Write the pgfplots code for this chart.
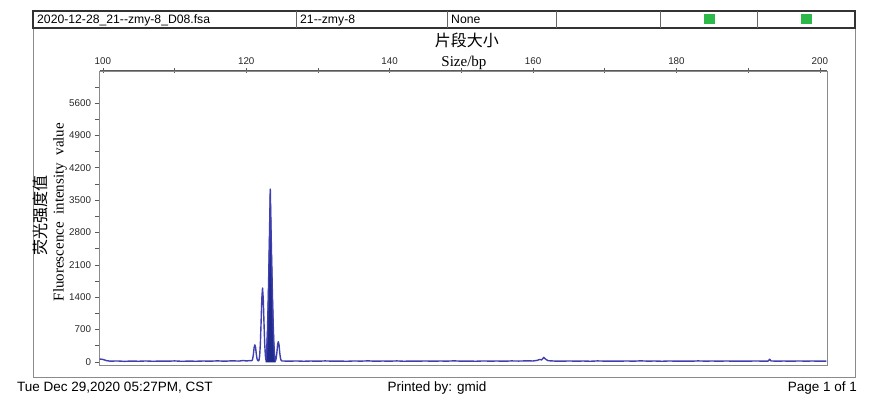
\documentclass[border=0pt]{standalone}
\usepackage{fontspec}
\setmainfont{Liberation Serif}
\newfontfamily\arial{Liberation Sans}
\newfontfamily\cjk{Noto Sans CJK SC}
\usepackage{pgfplots}
\pgfplotsset{compat=1.18}
\definecolor{trace}{HTML}{3F3FB0}
\definecolor{peakfill}{HTML}{1F2A8C}
\definecolor{okgreen}{HTML}{2DB84A}
\definecolor{framegray}{HTML}{8A8A8A}

\begin{document}
\begin{tikzpicture}
\path[use as bounding box] (0,0) rectangle (871pt,411pt);
% page frame and header strip
\draw[framegray, line width=0.9pt] (33pt,34pt) rectangle (855pt,383pt);
\draw[black!80, line width=1.4pt] (33pt,383pt) rectangle (855pt,400pt);
\foreach \xx in {296,447,556,660,757}
  \draw[black!60, line width=0.8pt] (\xx pt,383pt) -- (\xx pt,400pt);
\fill[okgreen] (703.5pt,386.5pt) rectangle (714.5pt,397pt);
\fill[okgreen] (800.5pt,386.5pt) rectangle (811.5pt,397pt);
\begin{scope}[every node/.style={inner sep=0pt, font=\arial\fontsize{12.2}{13}\selectfont}]
\node[anchor=base west] at (37pt,387.5pt) {2020-12-28\_21-{}-zmy-8\_D08.fsa};
\node[anchor=base west] at (300pt,387.5pt) {21-{}-zmy-8};
\node[anchor=base west] at (451pt,387.5pt) {None};
\end{scope}
% footer
\begin{scope}[every node/.style={inner sep=0pt, font=\arial\fontsize{13.5}{14}\selectfont}]
\node[anchor=base west] at (17pt,19pt) {Tue Dec 29,2020 05:27PM, CST};
\node[anchor=base] at (437pt,19pt) {Printed by: gmid};
\node[anchor=base east] at (857pt,19pt) {Page 1 of 1};
\end{scope}

\begin{axis}[
  at={(99.5pt,46pt)}, anchor=south west,
  scale only axis, width=727.5pt, height=294pt,
  xmin=99.53, xmax=201, ymin=-65, ymax=6292,
  axis line style={draw=framegray, line width=0.9pt},
  xtick pos=right, xticklabel pos=right, ytick pos=left,
  xtick={100,120,...,200}, minor xtick={110,130,...,190},
  ytick={0,700,...,5600}, minor ytick={350,1050,...,5950},
  xtick align=center, ytick align=outside,
  major tick length=5pt, minor tick length=5pt,
  tick style={black!65, line width=0.6pt},
  /pgf/number format/assume math mode=true,
  /pgf/number format/1000 sep={},
  tick label style={font=\arial\fontsize{9.8}{10}\selectfont, text=black!85},
  clip=false,
]
% filled main peak
\addplot[fill=peakfill, draw=peakfill, line width=0.8pt] coordinates {
  (122.75,0) (122.75,20) (122.85,250) (122.95,650) (123.05,1250)
  (123.15,2000) (123.25,2850) (123.35,3740) (123.45,2900) (123.55,2150)
  (123.65,1450) (123.75,850) (123.85,400) (123.95,130) (124.05,20)
  (124.05,0)
} \closedcycle;
% trace
\addplot[trace, line width=1.4pt, line join=round] coordinates {
  (99.55,65) (100,55) (100.5,30) (101,18) (102,22) (103,14) (104,20)
  (105,16) (106,22) (107,15) (108,20) (109,17) (110,23) (111,15)
  (112,19) (113,16) (114,21) (115,18) (116,24) (117,17) (118,25)
  (119,20) (119.6,32) (120,22) (120.5,30) (120.7,26)
  (120.8,31) (120.9,70) (121.0,172) (121.1,316) (121.2,370) (121.3,316)
  (121.4,172) (121.5,70) (121.6,31) (121.7,24)
  (121.77,34) (121.87,135) (121.97,399) (122.07,863) (122.17,1371)
  (122.27,1600) (122.37,1371) (122.47,863) (122.57,399) (122.67,135)
  (122.75,40)
  (122.85,250) (122.95,650) (123.05,1250)
  (123.15,2000) (123.25,2850) (123.35,3740) (123.45,2900) (123.55,2150)
  (123.65,1450) (123.75,850) (123.85,400) (123.95,130) (124.05,30)
  (124.12,40) (124.17,80) (124.27,200) (124.37,372) (124.47,440)
  (124.57,372) (124.67,200) (124.77,80) (124.87,32) (125.0,22)
  (125.4,20) (126,18) (127,22) (128,16) (129,21) (130,17) (131,23)
  (132,18) (133,20) (134,15) (135,22) (136,19) (137,24) (138,17)
  (139,21) (140,18) (141,23) (142,16) (143,20) (144,18) (145,22)
  (146,17) (147,21) (148,19) (149,24) (150,18) (151,20) (152,16)
  (153,22) (154,19) (155,21) (156,17) (157,23) (158,20) (159,24)
  (160,22) (160.6,35) (160.9,55) (161.2,45) (161.5,100) (161.8,55)
  (162.1,28) (163,20) (164,17) (165,22) (166,18) (167,21) (168,16)
  (169,23) (170,19) (171,20) (172,17) (173,22) (174,18) (175,24)
  (176,19) (177,21) (178,16) (179,22) (180,18) (181,20) (182,17)
  (183,23) (184,19) (185,21) (186,18) (187,22) (188,17) (189,20)
  (190,18) (191,22) (192,19) (192.8,20) (193,60) (193.2,22) (194,18)
  (195,21) (196,17) (197,22) (198,19) (199,21) (200,18) (200.9,20)
};
\draw[black!65, line width=1pt] (rel axis cs:0,1) -- (rel axis cs:1,1);
\node[anchor=base, inner sep=0pt, yshift=4pt, font=\fontsize{15}{16}\selectfont]
  at (axis description cs:0.501,1) {Size/bp};
\node[anchor=base, inner sep=0pt, yshift=24pt, font=\cjk\fontsize{16}{17}\selectfont]
  at (axis description cs:0.505,1) {片段大小};
\node[rotate=90, inner sep=0pt, font=\fontsize{15}{16}\selectfont]
  at (axis description cs:-0.0543,0.52) {Fluorescence\ \ intensity\ \ value};
\node[rotate=90, inner sep=0pt, font=\cjk\fontsize{16}{17}\selectfont]
  at (axis description cs:-0.0818,0.51) {荧光强度值};
\end{axis}
\end{tikzpicture}
\end{document}
